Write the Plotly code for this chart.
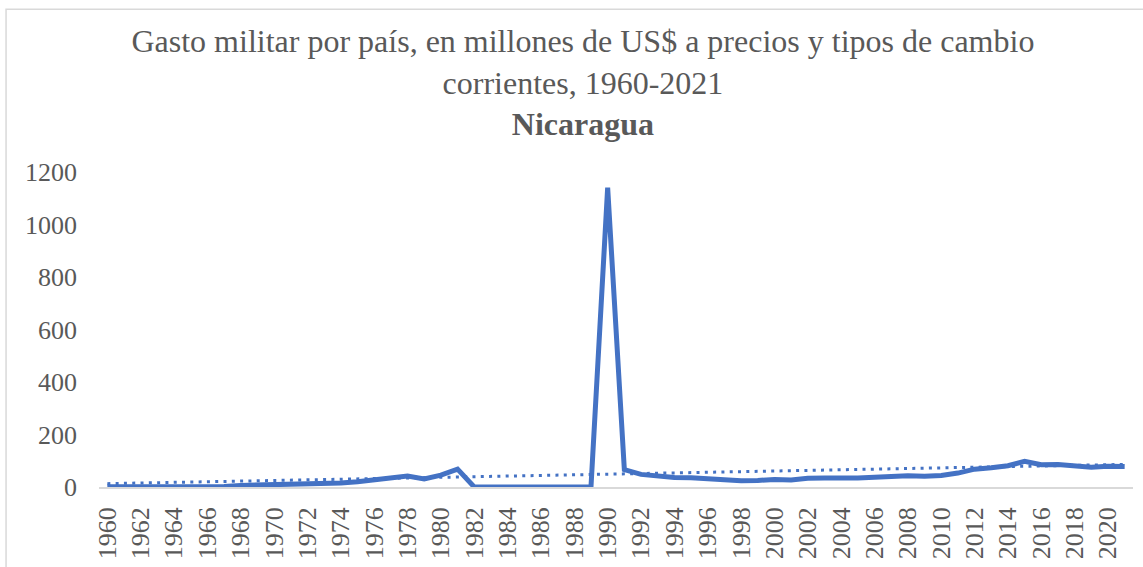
import numpy as np
import plotly.graph_objects as go

# Datos (millones de US$ corrientes)
anios = list(range(1960, 2022))
gasto = [
    1, 1, 1, 1, 2, 2, 2, 2,                      # 1960-1967
    6, 7, 8, 8, 10, 11, 15, 20, 26, 34,          # 1968-1977
    42, 31, 45, 68,                              # 1978-1981
    0, 0, 0, 0, 0, 0, 0, 0,                      # 1982-1989
    1140,                                        # 1990
    66, 48, 40, 36, 35, 31, 29, 24, 25, 29,      # 1991-2000
    27, 33, 34, 32, 34, 37, 40, 43, 41, 44,      # 2001-2010
    53, 68, 73, 81, 98, 85, 86, 80, 75, 79,      # 2011-2020
    78,                                          # 2021
]
etiquetas = [str(a) for a in anios]
ticks_x = [str(a) for a in anios if a % 2 == 0]
ticks_y = [0, 200, 400, 600, 800, 1000, 1200]

# Línea de tendencia lineal (como la de Excel)
idx = np.arange(1, len(gasto) + 1)
m, b = np.polyfit(idx, gasto, 1)
tendencia = m * idx + b

AZUL = '#4472C4'
GRIS = '#595959'
FUENTE = 'Liberation Serif'

fig = go.Figure()

fig.add_trace(go.Scatter(
    x=etiquetas, y=gasto,
    mode='lines',
    line=dict(color=AZUL, width=5),
    showlegend=False,
))

fig.add_trace(go.Scatter(
    x=etiquetas, y=tendencia,
    mode='lines',
    line=dict(color=AZUL, width=3, dash='3px,5.3px'),
    showlegend=False,
))

fig.update_layout(
    width=1143, height=567,
    plot_bgcolor='white',
    paper_bgcolor='white',
    margin=dict(l=99, r=10, t=172, b=80, autoexpand=False),
    font=dict(family=FUENTE, color=GRIS, size=26),
    title=dict(
        text='Gasto militar por país, en millones de US$ a precios y tipos de cambio<br>'
             'corrientes, 1960-2021<br><b>Nicaragua</b>',
        x=0.51, xanchor='center',
        y=0.908, yanchor='top',
        font=dict(family=FUENTE, color=GRIS, size=32),
    ),
    xaxis=dict(
        type='category',
        tickmode='array',
        tickvals=ticks_x,
        ticktext=ticks_x,
        tickangle=-90,
        showgrid=False,
        showline=True,
        linecolor='#D9D9D9',
        linewidth=1.5,
        ticks='',
        ticklabelstandoff=8,
        tickfont=dict(family=FUENTE, size=26),
        range=[-0.5, len(anios) - 0.5],
        automargin=False,
    ),
    yaxis=dict(
        range=[0, 1200],
        tickvals=ticks_y,
        showgrid=False,
        zeroline=False,
        showline=False,
        ticks='',
        ticklabelstandoff=21,
        tickfont=dict(family=FUENTE, size=26),
        automargin=False,
    ),
    shapes=[dict(
        type='rect', xref='paper', yref='paper',
        x0=-0.0899, x1=1.2, y0=-0.6, y1=1.517,
        line=dict(color='#D9D9D9', width=1.5),
        fillcolor='rgba(0,0,0,0)',
        layer='below',
    )],
)

fig.write_html('out.html', config={'displayModeBar': False},
               post_script="document.body.style.margin='0';")
